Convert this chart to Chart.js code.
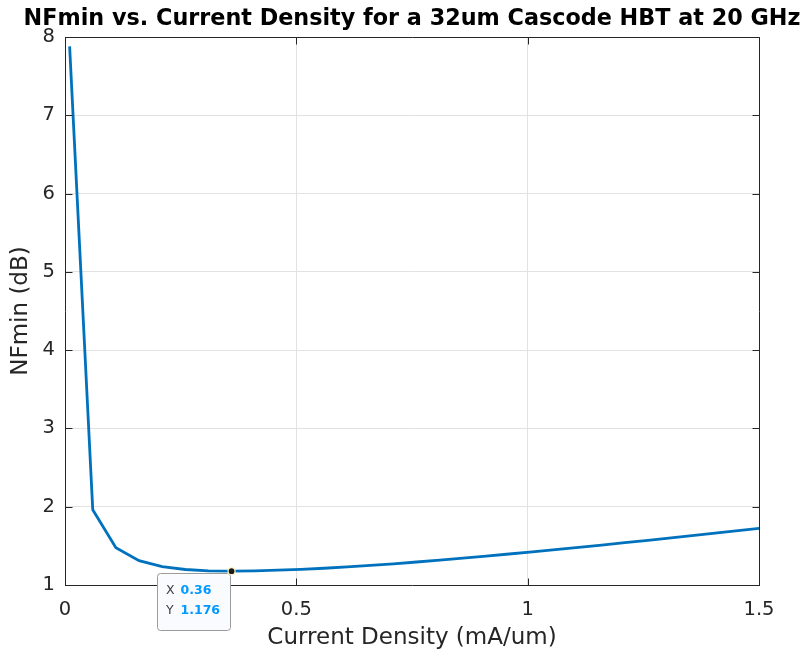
<!DOCTYPE html>
<html>
<head>
<meta charset="utf-8">
<title>NFmin vs. Current Density</title>
<style>
  html, body { margin: 0; padding: 0; background: #ffffff; }
  canvas { display: block; }
</style>
<script src="https://cdn.jsdelivr.net/npm/chart.js@4"></script>
</head>
<body>
<canvas id="nfChart" width="804" height="656"></canvas>
<script>
// Sweep of collector current density (mA/um) and the simulated minimum noise figure (dB)
const currentDensity = [
  0.01, 0.06, 0.11, 0.16, 0.21, 0.26, 0.31, 0.36, 0.41, 0.46,
  0.51, 0.56, 0.61, 0.66, 0.71, 0.76, 0.81, 0.86, 0.91, 0.96,
  1.01, 1.06, 1.11, 1.16, 1.21, 1.26, 1.31, 1.36, 1.41, 1.46, 1.51
];
const nfminDb = [
  7.88, 1.96, 1.475, 1.31, 1.235, 1.198, 1.181, 1.176, 1.181, 1.189,
  1.200, 1.214, 1.231, 1.250, 1.271, 1.294, 1.318, 1.343, 1.369, 1.396,
  1.424, 1.452, 1.481, 1.510, 1.540, 1.571, 1.602, 1.633, 1.665, 1.697, 1.729
];
const xTickValues = [0, 0.5, 1, 1.5];
const yTickValues = [1, 2, 3, 4, 5, 6, 7, 8];
const markedIndex = 7; // data tip at the noise minimum

const titleText = 'NFmin vs. Current Density for a 32um Cascode HBT at 20 GHz';
const xAxisText = 'Current Density (mA/um)';
const yAxisText = 'NFmin (dB)';

const FONT = "'DejaVu Sans', 'Liberation Sans', Arial, sans-serif";
const AXIS_COLOR = '#262626';
const GRID_COLOR = '#e2e2e2';
const LINE_COLOR = '#0072BD';

Chart.defaults.font.family = FONT;
Chart.defaults.color = AXIS_COLOR;

// Closed axes box with inward tick marks on all four sides
const axesBox = {
  id: 'axesBox',
  afterDatasetsDraw(chart) {
    const { ctx, chartArea, scales } = chart;
    const L = Math.round(chartArea.left) + 0.5;
    const R = Math.round(chartArea.right) + 0.5;
    const T = Math.round(chartArea.top) + 0.5;
    const B = Math.round(chartArea.bottom) + 0.5;
    const len = 7;
    ctx.save();
    ctx.strokeStyle = AXIS_COLOR;
    ctx.lineWidth = 1;
    ctx.beginPath();
    ctx.moveTo(L, T); ctx.lineTo(R, T); ctx.lineTo(R, B);
    for (const v of xTickValues) {
      const px = Math.round(scales.x.getPixelForValue(v)) + 0.5;
      ctx.moveTo(px, B); ctx.lineTo(px, B - len);
      ctx.moveTo(px, T); ctx.lineTo(px, T + len);
    }
    for (const v of yTickValues) {
      const py = Math.round(scales.y.getPixelForValue(v)) + 0.5;
      ctx.moveTo(L, py); ctx.lineTo(L + len, py);
      ctx.moveTo(R, py); ctx.lineTo(R - len, py);
    }
    ctx.stroke();
    ctx.restore();
  }
};

// Data tip showing the coordinates of the marked point
const dataTip = {
  id: 'dataTip',
  afterDraw(chart) {
    const { ctx, scales } = chart;
    const xv = currentDensity[markedIndex];
    const yv = nfminDb[markedIndex];
    const px = scales.x.getPixelForValue(xv);
    const py = scales.y.getPixelForValue(yv);
    const w = 73, h = 57, r = 3;
    const bx = Math.round(px - 1.5 - w) + 0.5;
    const by = Math.round(py + 1.5) + 0.5;
    ctx.save();
    ctx.beginPath();
    ctx.moveTo(bx + r, by);
    ctx.lineTo(bx + w - r, by);
    ctx.arcTo(bx + w, by, bx + w, by + r, r);
    ctx.lineTo(bx + w, by + h - r);
    ctx.arcTo(bx + w, by + h, bx + w - r, by + h, r);
    ctx.lineTo(bx + r, by + h);
    ctx.arcTo(bx, by + h, bx, by + h - r, r);
    ctx.lineTo(bx, by + r);
    ctx.arcTo(bx, by, bx + r, by, r);
    ctx.closePath();
    ctx.fillStyle = '#fafbff';
    ctx.fill();
    ctx.strokeStyle = '#9c9c9c';
    ctx.lineWidth = 1;
    ctx.stroke();

    ctx.textBaseline = 'middle';
    ctx.textAlign = 'left';
    const rows = [['X', String(xv)], ['Y', String(yv)]];
    rows.forEach(([name, val], i) => {
      const ty = by + 17.5 + i * 20;
      ctx.font = `12.5px ${FONT}`;
      ctx.fillStyle = '#404040';
      ctx.fillText(name, bx + 8.5, ty);
      ctx.font = `bold 12.5px ${FONT}`;
      ctx.fillStyle = 'rgb(0,153,255)';
      ctx.fillText(val, bx + 23, ty);
    });

    ctx.beginPath();
    ctx.arc(px, py, 3.5, 0, Math.PI * 2);
    ctx.fillStyle = '#1a1a1a';
    ctx.fill();
    ctx.strokeStyle = '#fff6c8';
    ctx.lineWidth = 1.2;
    ctx.stroke();
    ctx.restore();
  }
};

const points = currentDensity.map((x, i) => ({ x, y: nfminDb[i] }));

new Chart(document.getElementById('nfChart'), {
  type: 'line',
  data: {
    datasets: [{
      data: points,
      borderColor: LINE_COLOR,
      borderWidth: 2.8,
      pointRadius: 0,
      tension: 0,
      fill: false,
      clip: 0
    }]
  },
  options: {
    responsive: false,
    animation: false,
    devicePixelRatio: 1,
    layout: { padding: { left: 20, right: 0, top: 0, bottom: 0 } },
    plugins: {
      legend: { display: false },
      tooltip: { enabled: false },
      title: {
        display: true,
        text: titleText,
        color: '#000000',
        font: { size: 22.3, weight: 'bold', lineHeight: '27px' },
        padding: { top: 6, bottom: 4 }
      }
    },
    scales: {
      x: {
        type: 'linear',
        min: 0,
        max: 1.5,
        afterBuildTicks(scale) { scale.ticks = xTickValues.map(v => ({ value: v })); },
        afterFit(scale) { scale.height = 71; scale.paddingRight = 45; },
        ticks: {
          color: AXIS_COLOR,
          font: { size: 19.5 },
          padding: 13,
          maxRotation: 0,
          callback: v => String(v)
        },
        grid: { color: GRID_COLOR, drawTicks: false, lineWidth: 1 },
        border: { display: true, color: AXIS_COLOR, width: 1 },
        title: {
          display: true,
          text: xAxisText,
          color: AXIS_COLOR,
          font: { size: 23 },
          padding: { top: 0, bottom: 4 }
        }
      },
      y: {
        type: 'linear',
        min: 1,
        max: 8,
        afterBuildTicks(scale) { scale.ticks = yTickValues.map(v => ({ value: v })); },
        afterFit(scale) { scale.width = 45; },
        ticks: {
          color: AXIS_COLOR,
          font: { size: 19.5 },
          padding: 10,
          callback: v => String(v)
        },
        grid: { color: GRID_COLOR, drawTicks: false, lineWidth: 1 },
        border: { display: true, color: AXIS_COLOR, width: 1 },
        title: {
          display: true,
          text: yAxisText,
          color: AXIS_COLOR,
          font: { size: 23 },
          padding: { top: -12.5, bottom: 0 }
        }
      }
    }
  },
  plugins: [axesBox, dataTip]
});
</script>
</body>
</html>
